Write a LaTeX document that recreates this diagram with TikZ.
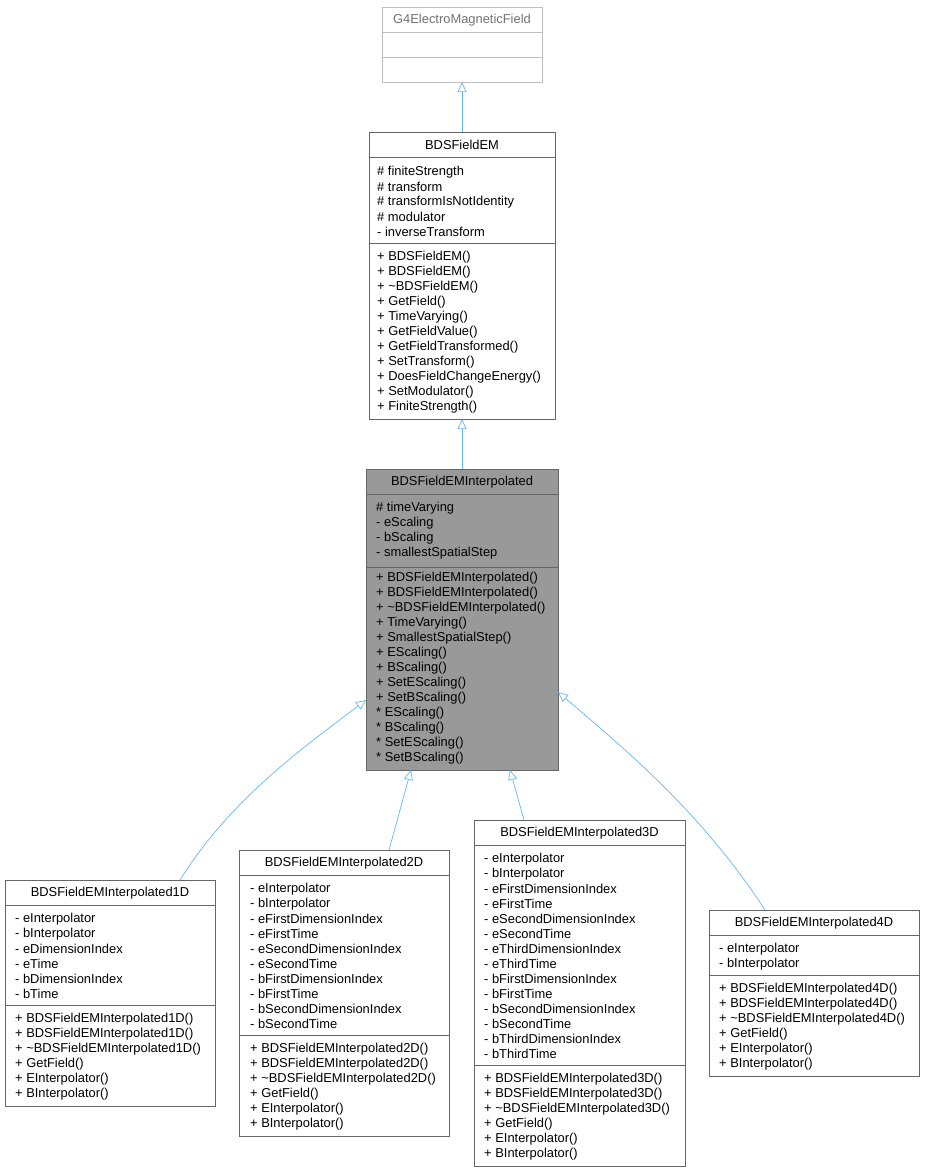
\documentclass[tikz,border=0pt]{standalone}
\usepackage{fontspec}
\setmainfont{Liberation Sans}
\usetikzlibrary{arrows.meta}
\definecolor{edge}{HTML}{63B8FF}
\begin{document}
\begin{tikzpicture}[x=1pt,y=1pt,
  box/.style={draw=black!60,line width=0.8pt,anchor=north west,inner sep=0,outer sep=0},
  txt/.style={anchor=west,inner sep=0,font=\fontsize{12.9}{14}\selectfont},
  ttl/.style={inner sep=0,font=\fontsize{12.9}{14}\selectfont},
  inh/.style={draw=edge,line width=0.7pt,{Triangle[open,length=10pt,width=9pt]}-}]
\newcommand\umlbox[7]{% name x1 y1 x2 y2 title fill
  \node[box,fill=#7,minimum width={#4-#2},minimum height={#5-#3}] (#1) at (#2,-#3) {};
  \node[ttl] (#1t) at ({(#2+#4)/2},{-#3-13}) {#6};
  \draw[black!60,line width=0.8pt] (#2,{-#3-25}) -- (#4,{-#3-25});}
\newcommand\sep[3]{\draw[black!60,line width=0.8pt] (#1,-#3) -- (#2,-#3);}
\newcommand\lines[3]{\foreach \t [count=\i from 0] in {#3} \node[txt] at (#1,{-#2-1-15*\i}) {\t};}
\path[use as bounding box,fill=white] (0,0) rectangle (925,-1173);
% G4
\node[box,draw=black!25,minimum width=160,minimum height=75] (g4) at (382,-7) {};
\node[ttl,text=black!55] (g4t) at (462,-20) {G4ElectroMagneticField};
\draw[black!25,line width=0.8pt] (382,-32) -- (542,-32) (382,-57) -- (542,-57);
% BDSFieldEM
\umlbox{em}{369}{132}{555}{419}{BDSFieldEM}{white}
\sep{369}{555}{243}
\lines{377}{171}{\# finiteStrength,\# transform,\# transformIsNotIdentity,\# modulator,- inverseTransform}
\lines{377}{256}{+ BDSFieldEM(),+ BDSFieldEM(),+ \textasciitilde BDSFieldEM(),+ GetField(),+ TimeVarying(),+ GetFieldValue(),+ GetFieldTransformed(),+ SetTransform(),+ DoesFieldChangeEnergy(),+ SetModulator(),+ FiniteStrength()}
% Interpolated
\umlbox{ip}{366}{469}{558}{770}{BDSFieldEMInterpolated}{black!40}
\sep{366}{558}{567}
\lines{376}{507}{\# timeVarying,- eScaling,- bScaling,- smallestSpatialStep}
\lines{376}{577}{+ BDSFieldEMInterpolated(),+ BDSFieldEMInterpolated(),+ \textasciitilde BDSFieldEMInterpolated(),+ TimeVarying(),+ SmallestSpatialStep(),+ EScaling(),+ BScaling(),+ SetEScaling(),+ SetBScaling(),* EScaling(),* BScaling(),* SetEScaling(),* SetBScaling()}
% 1D
\umlbox{d1}{5}{880}{215}{1106}{BDSFieldEMInterpolated1D}{white}
\sep{5}{215}{1005}
\lines{15}{918}{- eInterpolator,- bInterpolator,- eDimensionIndex,- eTime,- bDimensionIndex,- bTime}
\lines{15}{1018}{+ BDSFieldEMInterpolated1D(),+ BDSFieldEMInterpolated1D(),+ \textasciitilde BDSFieldEMInterpolated1D(),+ GetField(),+ EInterpolator(),+ BInterpolator()}
% 2D
\umlbox{d2}{239}{850}{449}{1136}{BDSFieldEMInterpolated2D}{white}
\sep{239}{449}{1035}
\lines{250}{888}{- eInterpolator,- bInterpolator,- eFirstDimensionIndex,- eFirstTime,- eSecondDimensionIndex,- eSecondTime,- bFirstDimensionIndex,- bFirstTime,- bSecondDimensionIndex,- bSecondTime}
\lines{250}{1048}{+ BDSFieldEMInterpolated2D(),+ BDSFieldEMInterpolated2D(),+ \textasciitilde BDSFieldEMInterpolated2D(),+ GetField(),+ EInterpolator(),+ BInterpolator()}
% 3D
\umlbox{d3}{474}{820}{685}{1166}{BDSFieldEMInterpolated3D}{white}
\sep{474}{685}{1065}
\lines{484}{858}{- eInterpolator,- bInterpolator,- eFirstDimensionIndex,- eFirstTime,- eSecondDimensionIndex,- eSecondTime,- eThirdDimensionIndex,- eThirdTime,- bFirstDimensionIndex,- bFirstTime,- bSecondDimensionIndex,- bSecondTime,- bThirdDimensionIndex,- bThirdTime}
\lines{484}{1078}{+ BDSFieldEMInterpolated3D(),+ BDSFieldEMInterpolated3D(),+ \textasciitilde BDSFieldEMInterpolated3D(),+ GetField(),+ EInterpolator(),+ BInterpolator()}
% 4D
\umlbox{d4}{709}{910}{919}{1076}{BDSFieldEMInterpolated4D}{white}
\sep{709}{919}{975}
\lines{719}{948}{- eInterpolator,- bInterpolator}
\lines{719}{988}{+ BDSFieldEMInterpolated4D(),+ BDSFieldEMInterpolated4D(),+ \textasciitilde BDSFieldEMInterpolated4D(),+ GetField(),+ EInterpolator(),+ BInterpolator()}
% edges
\draw[inh] (g4.south) -- (em.north);
\draw[inh] (em.south) -- (ip.north);
\coordinate (a1) at (366,-700); \coordinate (b1) at (180,-880);
\draw[inh] (a1) .. controls (300,-750) and (230,-800) .. (b1);
\coordinate (a2) at (411,-770); \coordinate (b2) at (389,-850);
\draw[inh] (a2) -- (b2);
\coordinate (a3) at (510,-770); \coordinate (b3) at (524,-820);
\draw[inh] (a3) -- (b3);
\coordinate (a4) at (558,-692); \coordinate (b4) at (765,-910);
\draw[inh] (a4) .. controls (620,-745) and (700,-810) .. (b4);
\end{tikzpicture}
\end{document}
